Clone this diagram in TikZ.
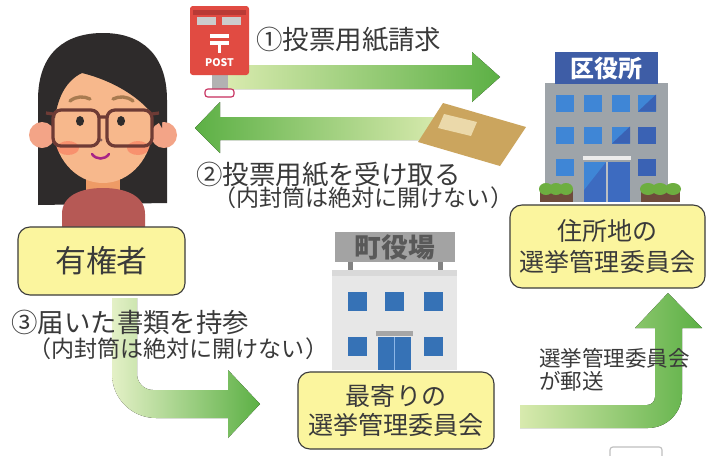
\documentclass[tikz,border=0pt]{standalone}
\usepackage{fontspec}
\setmainfont{Noto Sans CJK JP}
\usepackage{xcolor}
\usetikzlibrary{positioning, calc}
\definecolor{Ink}     {HTML}{3A3A3A}
\definecolor{BoxFill} {HTML}{FBF59E}
\definecolor{BoxEdge} {HTML}{3C3C3C}
\definecolor{ArrGreen}{HTML}{5CB045}
\definecolor{ArrLight}{HTML}{D8EAAE}
\definecolor{PostRed} {HTML}{E14B42}
\definecolor{PostDark}{HTML}{B93A35}
\definecolor{Hair}    {HTML}{2E2B2B}
\definecolor{Skin}    {HTML}{F7B88C}
\definecolor{EarSkin} {HTML}{F3A487}
\definecolor{Neck}    {HTML}{EE9B66}
\definecolor{Shirt}   {HTML}{B65955}
\definecolor{Frame}   {HTML}{6E3B35}
\definecolor{Brow}    {HTML}{A87B50}
\definecolor{Envelope}{HTML}{CBA55E}
\definecolor{EnvWin}  {HTML}{EBD9AA}
\definecolor{WardSign}{HTML}{3E5DA6}
\definecolor{WardWall}{HTML}{9EA4A9}
\definecolor{WinBlue} {HTML}{3F86D6}
\definecolor{WinDark} {HTML}{3A62B4}
\definecolor{DoorBlue}{HTML}{3D6BC0}
\definecolor{TownSign}{HTML}{A3A3A3}
\definecolor{TownWall}{HTML}{E7E7E7}
\definecolor{Planter} {HTML}{6E4B3B}
\definecolor{Bush}    {HTML}{6DAE40}

\begin{document}
\begin{tikzpicture}[x=0.025cm, y=-0.025cm,
    box/.style={draw=BoxEdge, fill=BoxFill, line width=0.8pt, rounded corners=0.3cm,
                align=center, text=Ink, inner sep=0pt},
    lab/.style={font=\fontsize{18.8}{22}\selectfont, text=Ink, inner sep=0pt, anchor=west},
    paren/.style={font=\fontsize{16.4}{19}\selectfont, text=Ink, inner sep=0pt, anchor=west},
    note/.style={font=\fontsize{15.3}{16}\selectfont, text=Ink, inner sep=0pt, anchor=west,
                 align=left}]
  \useasboundingbox (0,0) rectangle (715,455);
  \fill[white] (0,0) rectangle (715,455);

  % ── arrows ─────────────────────────────────────────────────────────────────
  % request: voter -> ward office
  \fill[left color=ArrLight, right color=ArrGreen]
    (228,65) -- (472,65) -- (472,52) -- (500,77) -- (472,102) -- (472,89)
    -- (228,89) -- cycle;
  % ballot back: ward office -> voter
  \fill[left color=ArrGreen, right color=ArrLight]
    (440,117) -- (220,117) -- (220,102) -- (195,128) -- (220,153) -- (220,140)
    -- (440,140) -- cycle;
  % carry the papers to the nearest office
  \fill[left color=ArrLight!70!white, right color=ArrGreen]
    (112,298) -- (112,374) .. controls (112,398.3) and (131.7,418) .. (156,418)
    -- (228,418) -- (228,438) -- (260,404) -- (228,370) -- (228,390)
    -- (153,390) .. controls (144.2,390) and (137,382.8) .. (137,374)
    -- (137,298) -- cycle;
  % forwarded by post
  \fill[left color=ArrLight, right color=ArrGreen]
    (520,405) -- (520,428) -- (648,428) .. controls (666.8,428) and (682,412.8) .. (682,394)
    -- (682,328) -- (702,328) -- (668,293) -- (635,328) -- (655,328)
    -- (655,397) .. controls (655,401.4) and (651.4,405) .. (647,405) -- cycle;

  % ── envelope ───────────────────────────────────────────────────────────────
  \fill[Envelope] (443,103) -- (526,127) -- (500,166) -- (418,142) -- cycle;
  \fill[EnvWin] (444,114) -- (477,122) -- (471,136) -- (438,128) -- cycle;

  % ── post box ───────────────────────────────────────────────────────────────
  \fill[black!30] (212,74) rectangle (228,90);
  \draw[fill=white, draw=PostDark!80!magenta, line width=0.8pt, rounded corners=2pt]
    (205,89) rectangle (234,97);
  \fill[PostRed, rounded corners=2pt] (190,6) rectangle (249,75);
  \fill[PostDark] (193,10) rectangle (246,15);
  \fill[black!20] (197,17) rectangle (216,25);
  \fill[black!20] (222,17) rectangle (241,25);
  \draw[white, line width=2.2pt] (210,36) -- (229,36) (210,43) -- (229,43) (219.5,43) -- (219.5,53);
  \node[font=\bfseries\fontsize{7.5}{8}\selectfont, text=white, inner sep=0pt] (post) at (219.5,63) {POST};

  % ── voter ──────────────────────────────────────────────────────────────────
  \fill[Hair] (38,205) -- (38,100) .. controls (38,52) and (66,33) .. (103,33)
    .. controls (142,33) and (167,55) .. (167,100) -- (167,203) -- cycle;
  \fill[EarSkin] (42,135) circle (13);
  \fill[EarSkin] (164,135) circle (13);
  \fill[Neck] (86,168) rectangle (120,196);
  \fill[Shirt] (62,232) -- (62,214) .. controls (62,196) and (80,188) .. (103,188)
    .. controls (126,188) and (145,196) .. (145,214) -- (145,232) -- cycle;
  \fill[Skin] (103,125) ellipse [x radius=50, y radius=58];
  \fill[red!60!Skin, opacity=0.35] (68,148) ellipse [x radius=11, y radius=7];
  \fill[red!60!Skin, opacity=0.35] (138,148) ellipse [x radius=11, y radius=7];
  % fringe
  \fill[Hair] (48,118) -- (48,100) .. controls (48,60) and (72,42) .. (103,42)
    .. controls (138,42) and (162,62) .. (162,100) -- (162,128)
    .. controls (148,102) and (118,82) .. (82,73)
    .. controls (67,80) and (58,96) .. (55,118) -- cycle;
  % brows, eyes, nose, mouth
  \draw[Brow, line width=2.4pt, line cap=round] (70,101) .. controls (76,96) and (84,96) .. (90,99);
  \draw[Brow, line width=2.4pt, line cap=round] (113,99) .. controls (119,96) and (127,96) .. (133,101);
  \fill[Hair] (80,121) ellipse [x radius=4, y radius=5];
  \fill[Hair] (121,121) ellipse [x radius=4, y radius=5];
  \fill[Frame!80] (101,140) circle (1.6);
  \draw[Frame!60!magenta, line width=1.8pt, line cap=round]
    (92,154) .. controls (96,160) and (105,160) .. (109,154);
  % glasses
  \draw[Frame, line width=2.3pt, rounded corners=0.2cm] (53,110) rectangle (99,146);
  \draw[Frame, line width=2.3pt, rounded corners=0.2cm] (107,110) rectangle (152,146);
  \draw[Frame, line width=2.3pt] (99,117) -- (107,117) (53,114) -- (46,113) (152,114) -- (159,113);

  % ── ward office ────────────────────────────────────────────────────────────
  \fill[WardWall] (545,83) rectangle (668,202);
  \fill[WardSign] (555,52) rectangle (658,84);
  \node[font=\bfseries\fontsize{17}{17}\selectfont, text=white, inner sep=0pt] (wardsign) at (606.5,68) {区役所};
  \foreach \x in {565,593,621,647} {
    \foreach \y in {103,135} {
      \fill[WinBlue] (\x-9,\y-8.5) rectangle ++(18,17);
    }
  }
  \foreach \x in {565,647} {
    \fill[WinBlue] (\x-9,158.5) rectangle ++(18,17);
  }
  \fill[WinDark] (638,111.5) -- (656,111.5) -- (656,94.5) -- cycle;
  \fill[WinDark] (612,143.5) -- (630,143.5) -- (630,126.5) -- cycle;
  \fill[WinDark] (638,126.5) rectangle ++(18,17);
  \fill[WinDark] (638,158.5) rectangle ++(18,17);
  \fill[white!85!gray] (583,156) rectangle (631,160);
  \fill[DoorBlue] (584,162) rectangle (630,202);
  \fill[WinBlue] (584,162) -- (606,162) -- (584,190) -- cycle;
  \draw[WardWall!70!white, line width=0.8pt] (607,162) -- (607,202);
  % planters
  \fill[Planter] (540,189) rectangle (573,202);
  \fill[Planter] (641,189) rectangle (680,202);
  \foreach \x in {546,556,566} { \fill[Bush] (\x,189) ellipse [x radius=7, y radius=6]; }
  \foreach \x in {648,660,673} { \fill[Bush] (\x,189) ellipse [x radius=8, y radius=6]; }

  % ── town hall ──────────────────────────────────────────────────────────────
  \fill[TownSign!80!black] (348,260) rectangle (353,272);
  \fill[TownSign!80!black] (438,260) rectangle (443,272);
  \fill[TownSign] (335,232) rectangle (455,262);
  \node[font=\bfseries\fontsize{19}{19}\selectfont, text=black!65, inner sep=0pt] (townsign) at (395,247) {町役場};
  \fill[TownWall] (332,270) rectangle (457,370);
  \fill[black!15] (332,270) rectangle (457,276);
  \foreach \x in {357,394,433} {
    \fill[WinBlue!85!black] (\x-9.5,291.5) rectangle ++(19,19);
  }
  \foreach \x in {357,433} {
    \fill[WinBlue!85!black] (\x-9.5,336.5) rectangle ++(19,19);
  }
  \fill[black!35] (376,331) rectangle (413,336);
  \fill[WinBlue!85!black] (378,337) rectangle (411,370);
  \draw[WinBlue!60!white, line width=0.8pt] (394.5,337) -- (394.5,370);

  % ── boxes ──────────────────────────────────────────────────────────────────
  \node[box, minimum width=4.175cm, minimum height=1.7cm,
        font=\fontsize{22}{26}\selectfont] (voter) at (101.5,261) {有権者};
  \node[box, minimum width=4.875cm, minimum height=2.075cm,
        font=\fontsize{17.8}{21.5}\selectfont] (homecom) at (607.5,246.5)
        {住所地の\\選挙管理委員会};
  \node[box, minimum width=4.9cm, minimum height=1.925cm,
        font=\fontsize{17.8}{20}\selectfont] (nearcom) at (396,410.5)
        {最寄りの\\選挙管理委員会};

  % ── step labels ────────────────────────────────────────────────────────────
  \node[lab] (step1) at (256,40) {①投票用紙請求};
  \node[lab] (step2) at (196,175) {②投票用紙を受け取る};
  \node[paren] (step2b) at (213,198) {（内封筒は絶対に開けない）};
  \node[lab] (step3) at (11,322) {③届いた書類を持参};
  \node[paren] (step3b) at (28,349) {（内封筒は絶対に開けない）};
  \node[note] (mailed) at (539,370) {選挙管理委員会\\が郵送};

  % small edge of the next leaflet item
  \draw[black!25, line width=0.8pt, rounded corners=2pt] (610,447) rectangle (662,470);
\end{tikzpicture}
\end{document}
